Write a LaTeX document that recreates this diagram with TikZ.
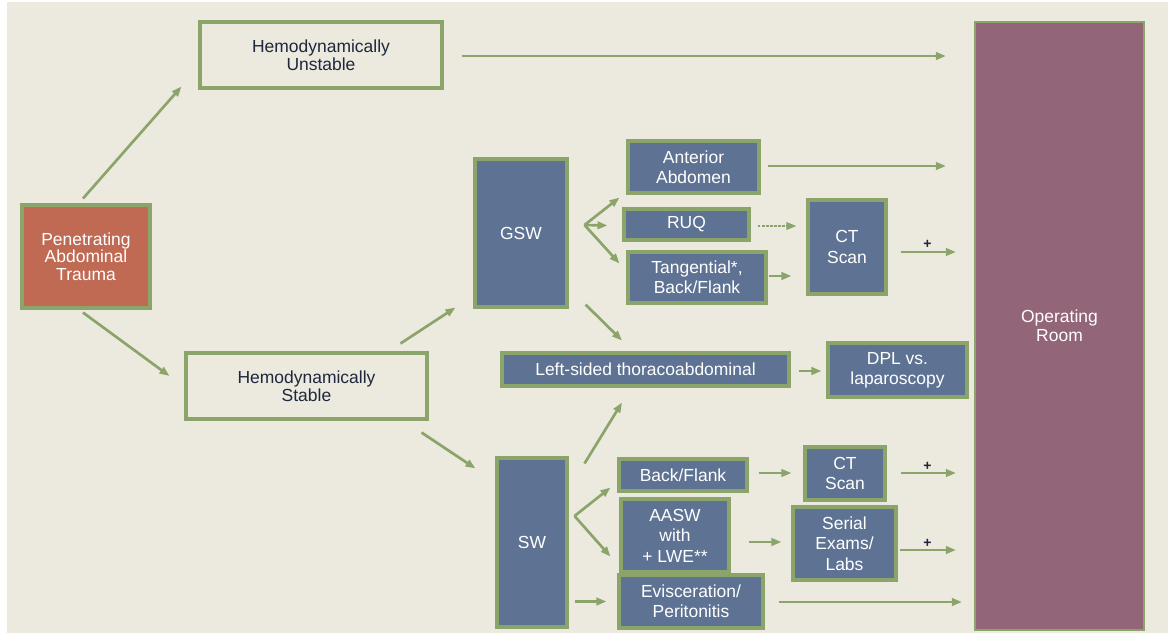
\documentclass[tikz,border=0pt]{standalone}
\usepackage{fontspec}
\setmainfont{Liberation Sans}
\usetikzlibrary{calc,arrows.meta}

\definecolor{paper}{RGB}{236,233,222}
\definecolor{leaf}{RGB}{139,164,106}
\definecolor{brick}{RGB}{192,106,84}
\definecolor{slate}{RGB}{94,115,147}
\definecolor{mauve}{RGB}{147,101,120}
\definecolor{ink}{RGB}{30,40,60}

% box from corner (x1,y1) to corner (x2,y2), in pixel units
\newcommand\pxbox[7]{%
  \node[#6, minimum width={(#4-#2)*0.75pt}, minimum height={(#5-#3)*0.75pt}]
    (#1) at ({(#2+#4)/2},{(#3+#5)/2}) {#7};}

\tikzset{
  base/.style={rectangle, draw=leaf, line width=2.3pt, inner sep=0pt,
    align=center, font=\fontsize{13.1}{13.3}\selectfont},
  openbox/.style={base, fill=paper, text=ink},
  startbox/.style={base, fill=brick, text=white},
  stepbox/.style={base, fill=slate, text=white, font=\fontsize{13.1}{15.3}\selectfont},
  orbox/.style={base, fill=mauve, text=white, line width=1.6pt, font=\fontsize{13.1}{14.3}\selectfont},
  arr/.style={draw=leaf, line width=2pt, -{Triangle[length=7.5pt,width=5.6pt]}},
  dasharr/.style={arr, line width=1.5pt, dash pattern=on 2.2pt off 0.9pt},
  plus/.style={text=ink, font=\fontsize{10.5}{10.5}\selectfont\bfseries, inner sep=0pt}
}

\begin{document}
\begin{tikzpicture}[x=0.75pt,y=-0.75pt]
  \useasboundingbox (0,0) rectangle (1171,637);
  \fill[white] (0,0) rectangle (1171,637);
  \fill[paper] (7,2) rectangle (1168,633);

  % nodes
  \pxbox{trauma}{22}{205}{150}{308}{startbox}{Penetrating\\Abdominal\\Trauma}
  \pxbox{unst}{200}{22}{442}{88}{openbox}{Hemodynamically\\Unstable}
  \pxbox{stab}{186}{353}{427}{419}{openbox}{Hemodynamically\\Stable}
  \pxbox{gsw}{475}{159}{567}{307}{stepbox}{GSW}
  \pxbox{ant}{628}{141}{759}{193}{stepbox}{Anterior\\Abdomen}
  \pxbox{ruq}{624}{209}{749}{240}{stepbox}{RUQ}
  \pxbox{tan}{628}{252}{766}{303}{stepbox}{Tangential*,\\Back/Flank}
  \pxbox{ctone}{808}{200}{886}{294}{stepbox}{CT\\Scan}
  \pxbox{left}{502}{353}{789}{386}{stepbox}{Left-sided thoracoabdominal}
  \pxbox{dpl}{828}{343}{967}{397}{stepbox}{DPL vs.\\laparoscopy}
  \pxbox{sw}{497}{458}{567}{627}{stepbox}{SW}
  \pxbox{bf}{619}{459}{747}{491}{stepbox}{Back/Flank}
  \pxbox{cttwo}{805}{447}{885}{500}{stepbox}{CT\\Scan}
  \pxbox{aasw}{621}{499}{729}{572}{stepbox}{AASW\\with\\+ LWE**}
  \pxbox{ser}{793}{507}{896}{580}{stepbox}{Serial\\Exams/\\Labs}
  \pxbox{evi}{619}{575}{763}{628}{stepbox}{Evisceration/\\Peritonitis}
  \pxbox{or}{975}{22}{1144}{630}{orbox}{Operating\\Room}

  % branching points
  \coordinate (gb) at ($(gsw.east)+(16,-8)$);
  \coordinate (sb) at ($(sw.east)+(6,-26.5)$);

  % connectors
  \draw[arr] ($(trauma.north)+(-3,-5)$) -- ($(unst.south west)+(-17,-3)$);
  \draw[arr] ($(trauma.south)+(-3,3)$) -- ($(stab.west)+(-15,-10)$);
  \draw[arr] ($(unst.east)+(18,1)$) -- ($(or.west |- unst.east)+(-28,1)$);
  \draw[arr] ($(stab.north east)+(-28,-8)$) -- ($(gsw.south west)+(-18,-1)$);
  \draw[arr] ($(stab.south east)+(-7,12)$) -- ($(sw.north west)+(-20,12)$);

  \draw[arr] (gb) -- ($(ant.south west)+(-7,3)$);
  \draw[arr] (gb) -- ($(ruq.west)+(-15,1)$);
  \draw[arr] (gb) -- ($(tan.north west)+(-7,13)$);
  \draw[arr] ($(gsw.south east)+(17,-4)$) -- ($(left.north)+(-23.5,-11)$);

  \draw[arr] ($(ant.east)+(7,-1)$) -- ($(or.west |- ant.east)+(-28,-1)$);
  \draw[dasharr] ($(ruq.east)+(7,1.5)$) -- ($(ctone.west |- ruq.east)+(-10,1.5)$);
  \draw[arr] ($(tan.east)+(1,-1.5)$) -- ($(ctone.west |- tan.east)+(-15,-1.5)$);
  \draw[arr] ($(ctone.east)+(13,5)$) -- ($(or.west |- ctone.east)+(-18,5)$);
  \node[plus] (pone) at ($(ctone.east)+(40,-3)$) {+};

  \draw[arr] ($(left.east)+(8,1.5)$) -- ($(dpl.west)+(-5,1)$);
  \draw[arr] ($(sw.north east)+(16,7)$) -- ($(left.south)+(-23.5,15)$);

  \draw[arr] (sb) -- ($(bf.south west)+(-7,-5)$);
  \draw[arr] (sb) -- ($(aasw.south west)+(-9,-17)$);
  \draw[arr] ($(sw.east |- evi.west)+(6,0)$) -- ($(evi.west)+(-11,0)$);

  \draw[arr] ($(bf.east)+(10,-2)$) -- ($(cttwo.west)+(-12,-0.5)$);
  \draw[arr] ($(cttwo.east)+(14,-0.5)$) -- ($(or.west |- cttwo.east)+(-18,-0.5)$);
  \node[plus] (ptwo) at ($(cttwo.east)+(41,-7.5)$) {+};

  \draw[arr] ($(aasw.east)+(18,6.5)$) -- ($(ser.west)+(-10,-1.5)$);
  \draw[arr] ($(ser.east)+(2,6.5)$) -- ($(or.west |- ser.east)+(-18,6.5)$);
  \node[plus] (pthree) at ($(ser.east)+(30,-0.5)$) {+};

  \draw[arr] ($(evi.east)+(14,0.5)$) -- ($(or.west |- evi.east)+(-12,0.5)$);
\end{tikzpicture}
\end{document}
